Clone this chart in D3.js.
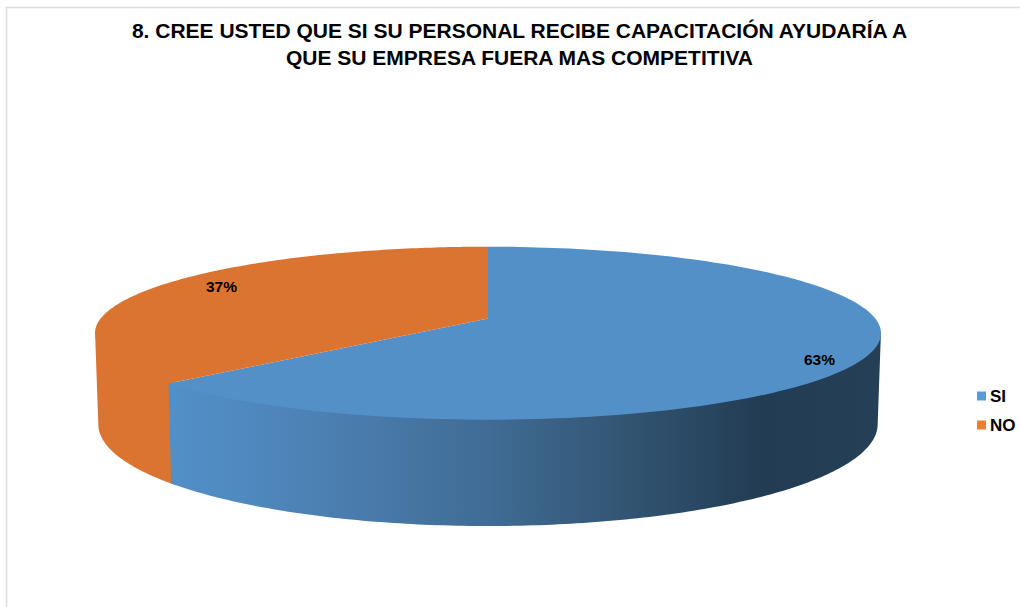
<!DOCTYPE html>
<html>
<head>
<meta charset="utf-8">
<script src="https://cdn.jsdelivr.net/npm/d3@7/dist/d3.min.js"></script>
<style>
html,body{margin:0;padding:0;background:#fff;}
svg{display:block;}
text{font-family:"Liberation Sans",Arial,sans-serif;font-weight:bold;fill:#000;}
</style>
</head>
<body>
<svg id="chart" width="1020" height="607"></svg>
<script>
// Survey answers
const categories = ["SI", "NO"];
const percentages = [63, 37];
const titleLines = [
  "8. CREE USTED QUE SI SU PERSONAL RECIBE CAPACITACIÓN AYUDARÍA A",
  "QUE SU EMPRESA FUERA MAS COMPETITIVA"
];
const topColors = ["#5490c8", "#da7430"];
const legendColors = ["#5b9bd5", "#ed7d31"];

const svg = d3.select("#chart");

// Chart frame: top and left rules only
svg.append("path").attr("d", "M6.5,607V7.5H1020").attr("fill", "none")
  .attr("stroke", "#dcdcdc").attr("stroke-width", 1.5);

// Title
svg.selectAll("text.title").data(titleLines).join("text")
  .attr("class", "title")
  .attr("x", 519.5)
  .attr("y", (d, i) => 38 + i * 27)
  .attr("text-anchor", "middle")
  .attr("font-size", 21)
  .text(d => d);

// Perspective view of a unit disc: the near edge is drawn larger than the far edge.
const cx = 488, tilt = 0.17;
const topPlane = {y0: 318.5, rx: 387.3, ry: 84};
const basePlane = {y0: 407, rx: 384, ry: 98.8};
// The walls start just above the rim so they tuck under the top face without a hairline
const wallTopPlane = {y0: topPlane.y0 - 3, rx: topPlane.rx, ry: topPlane.ry};
const project = (plane, angle) => {
  const u = Math.sin(angle), v = -Math.cos(angle), w = 1 - tilt * v;
  return [cx + plane.rx * u / w, plane.y0 + plane.ry * v / w];
};
const angleRange = (a, b, n = 160) => d3.range(n + 1).map(i => a + (b - a) * i / n);
const line = d3.line();

const slices = d3.pie().sort(null).value(d => d)(percentages);
const seam = slices[0].endAngle;

// Angles at which the rim reaches the left and right of the silhouette
const wallFrom = Math.acos(-tilt);
const wallTo = 2 * Math.PI - wallFrom;

// Side wall shading runs left to right across the front of the pie
const defs = svg.append("defs");
const shade = defs.append("linearGradient").attr("id", "wallShade")
  .attr("gradientUnits", "userSpaceOnUse")
  .attr("x1", 165).attr("x2", 880).attr("y1", 0).attr("y2", 0);
[[0, "#5290c8"], [0.15, "#4e86bb"], [0.3, "#4879a8"], [0.45, "#406c96"],
 [0.62, "#345877"], [0.76, "#294660"], [0.83, "#223c53"], [1, "#253f56"]].forEach(([o, c]) =>
  shade.append("stop").attr("offset", o).attr("stop-color", c));

const wallPath = (a, b) => line([
  ...angleRange(a, b).map(t => project(wallTopPlane, t)),
  ...angleRange(b, a).map(t => project(basePlane, t))
]) + "Z";

// The orange wall runs slightly under the blue one so no gap shows at the seam
svg.append("path").attr("d", wallPath(seam - 0.02, wallTo)).attr("fill", topColors[1]);
svg.append("path").attr("d", wallPath(wallFrom, seam)).attr("fill", "url(#wallShade)");

// Top face of each slice
svg.selectAll("path.slice").data(slices).join("path")
  .attr("class", "slice")
  .attr("fill", (d, i) => topColors[i])
  .attr("d", d => line([
    [cx, topPlane.y0],
    ...angleRange(d.startAngle, d.endAngle).map(t => project(topPlane, t))
  ]) + "Z");

// Value labels
const labelSpots = [[819.5, 365], [221.5, 292]];
svg.selectAll("text.value").data(slices).join("text")
  .attr("class", "value")
  .attr("x", (d, i) => labelSpots[i][0])
  .attr("y", (d, i) => labelSpots[i][1])
  .attr("text-anchor", "middle")
  .attr("font-size", 15.5)
  .text(d => d.value + "%");

// Legend
const legendY = d3.scalePoint().domain(categories).range([396, 425]);
svg.selectAll("rect.key").data(categories).join("rect")
  .attr("class", "key")
  .attr("x", 977).attr("width", 9).attr("height", 9)
  .attr("y", d => legendY(d) - 4.5)
  .attr("fill", (d, i) => legendColors[i]);
svg.selectAll("text.keyLabel").data(categories).join("text")
  .attr("class", "keyLabel")
  .attr("x", 990)
  .attr("y", d => legendY(d) + 6)
  .attr("font-size", 17)
  .text(d => d);
</script>
</body>
</html>
